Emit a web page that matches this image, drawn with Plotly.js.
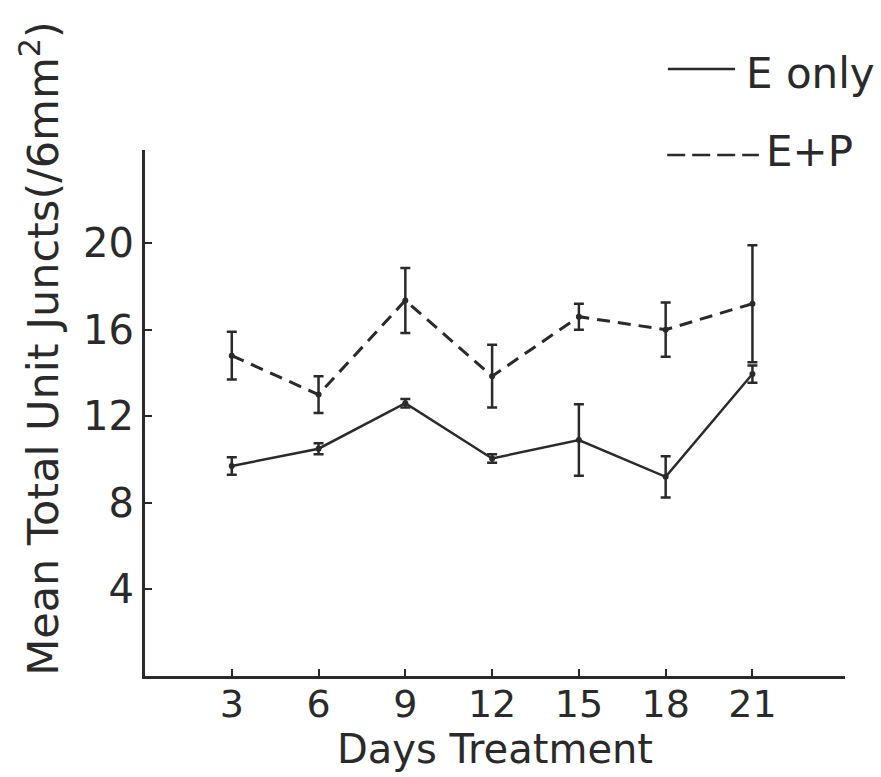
<!DOCTYPE html>
<html>
<head>
<meta charset="utf-8">
<script src="https://cdn.plot.ly/plotly-3.0.1.min.js"></script>
<style>html,body{margin:0;padding:0;background:#fff;}#chart{width:881px;height:777px;}</style>
</head>
<body>
<div id="chart"></div>
<script>
const days = [3, 6, 9, 12, 15, 18, 21];
const eOnlyMean = [9.7, 10.5, 12.6, 10.05, 10.9, 9.2, 13.95];
const eOnlyErr  = [0.4, 0.25, 0.2, 0.2, 1.65, 0.95, 0.4];
const epMean = [14.8, 13.0, 17.35, 13.85, 16.6, 16.0, 17.2];
const epErr  = [1.1, 0.85, 1.5, 1.45, 0.6, 1.25, 2.7];
const yTicks = [4, 8, 12, 16, 20];
const xTicks = [3, 6, 9, 12, 15, 18, 21];
const seriesNames = ['E only', 'E+P'];

const ink = '#2a2a2a';
const font = '"DejaVu Sans", Verdana, sans-serif';

const traces = [
  {
    x: days, y: eOnlyMean, name: seriesNames[0], type: 'scatter', mode: 'lines+markers',
    line: {color: ink, width: 2.5},
    marker: {color: ink, size: 6},
    error_y: {type: 'data', array: eOnlyErr, visible: true, color: ink, thickness: 2.5, width: 5}
  },
  {
    x: days, y: epMean, name: seriesNames[1], type: 'scatter', mode: 'lines+markers',
    line: {color: ink, width: 3, dash: '13px,8px'},
    marker: {color: ink, size: 6},
    error_y: {type: 'data', array: epErr, visible: true, color: ink, thickness: 2.5, width: 5}
  }
];

const layout = {
  width: 881, height: 777,
  paper_bgcolor: '#fff', plot_bgcolor: '#fff',
  margin: {l: 145, r: 36, t: 150, b: 101},
  showlegend: false,
  font: {family: font, color: ink, size: 38},
  xaxis: {
    range: [0, 24.2], showgrid: false, zeroline: false,
    showline: true, linecolor: ink, linewidth: 3,
    tickmode: 'array', tickvals: xTicks, ticktext: xTicks.map(String),
    ticks: 'inside', ticklen: 7, tickwidth: 2, tickcolor: ink,
    ticklabelstandoff: -8,
    tickfont: {size: 38, family: font, color: ink},
    title: {text: 'Days Treatment', font: {size: 40, family: font, color: ink}, standoff: 0}
  },
  yaxis: {
    range: [0, 24.3], showgrid: false, zeroline: false,
    showline: true, linecolor: ink, linewidth: 3,
    tickmode: 'array', tickvals: yTicks, ticktext: yTicks.map(String),
    ticks: 'inside', ticklen: 7, tickwidth: 2, tickcolor: ink,
    tickfont: {size: 40, family: font, color: ink}
  },
  annotations: [
    {xref: 'paper', yref: 'paper', x: -0.15, y: 0.622, textangle: -90, showarrow: false,
     text: 'Mean Total Unit Juncts(/6mm<sup>2</sup>)', font: {size: 43, family: font, color: ink},
     xanchor: 'center', yanchor: 'middle'},
    {xref: 'paper', yref: 'paper', x: 0.855, y: 1.1454, showarrow: false, xanchor: 'left', yanchor: 'middle',
     text: seriesNames[0], font: {size: 42, family: font, color: ink}},
    {xref: 'paper', yref: 'paper', x: 0.884, y: 0.998, showarrow: false, xanchor: 'left', yanchor: 'middle',
     text: seriesNames[1], font: {size: 42, family: font, color: ink}}
  ],
  shapes: [
    {type: 'line', xref: 'paper', yref: 'paper', x0: 0.747, x1: 0.843, y0: 1.154, y1: 1.154,
     line: {color: ink, width: 2.5}},
    {type: 'line', xref: 'paper', yref: 'paper', x0: 0.746, x1: 0.877, y0: 0.9905, y1: 0.9905,
     line: {color: ink, width: 2.5, dash: '18px,7px'}}
  ]
};

Plotly.newPlot('chart', traces, layout, {displayModeBar: false, staticPlot: true});
</script>
</body>
</html>
